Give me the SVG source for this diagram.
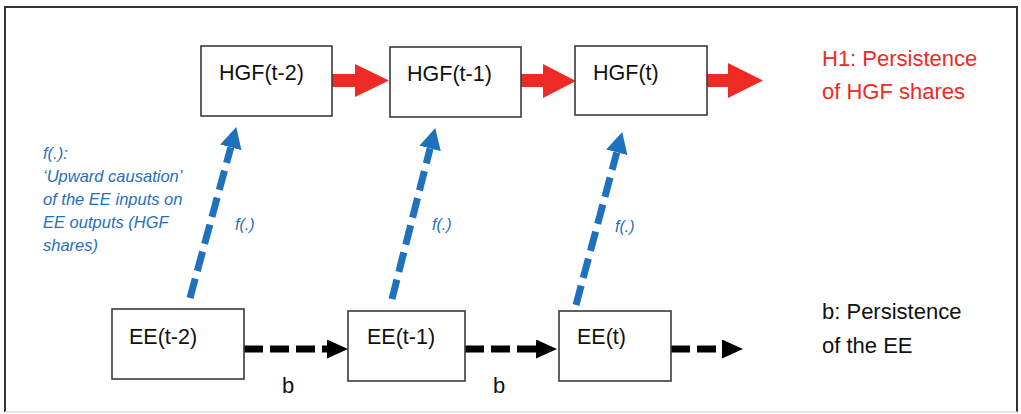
<svg xmlns="http://www.w3.org/2000/svg" width="1021" height="414" viewBox="0 0 1021 414">
  <style>
    .box { fill: #ffffff; stroke: #3a3a3a; stroke-width: 1.6; }
    .lbl { font-family: "Liberation Sans", Arial, sans-serif; font-size: 21.5px; fill: #111111; }
    .red { font-family: "Liberation Sans", Arial, sans-serif; font-size: 22px; fill: #EE2A24; }
    .note { font-family: "Liberation Sans", Arial, sans-serif; font-size: 22px; fill: #111111; }
    .blue { font-family: "Liberation Sans", Arial, sans-serif; font-style: italic; font-size: 16.5px; fill: #1F70BD; }
    .fl { font-family: "Liberation Sans", Arial, sans-serif; font-style: italic; font-size: 16px; fill: #1F70BD; }
    .up { fill: none; stroke: #1F70BD; stroke-width: 7; stroke-dasharray: 20 8; marker-end: url(#blueHead); }
    .pers { fill: none; stroke: #000000; stroke-width: 7; stroke-dasharray: 19 7; marker-end: url(#blackHead); }
    .redarrow { fill: #EE2A24; }
  </style>
  <defs>
    <marker id="blueHead" markerUnits="userSpaceOnUse" markerWidth="22" markerHeight="22" refX="0" refY="11" orient="auto">
      <path d="M0,0 L21,11 L0,22 z" fill="#1F70BD"/>
    </marker>
    <marker id="blackHead" markerUnits="userSpaceOnUse" markerWidth="22" markerHeight="20" refX="0" refY="9.5" orient="auto">
      <path d="M0,0 L21,9.5 L0,19 z" fill="#000000"/>
    </marker>
  </defs>

  <rect x="0" y="0" width="1021" height="414" fill="#ffffff"/>
  <g id="frame">
    <path d="M5,412 L5,7 L1017,7 L1017,412" fill="none" stroke="#333333" stroke-width="2"/>
    <line x1="5" y1="412" x2="1017" y2="412" stroke="#dddddd" stroke-width="1.5"/>
  </g>

  <g id="connectors">
    <polygon class="redarrow" points="332,74 355,74 355,64 389,80.5 355,97 355,87 332,87"/>
    <polygon class="redarrow" points="521,74 543,74 543,64 576,81 543,98 543,87 521,87"/>
    <polygon class="redarrow" points="707,74 728,74 728,63 763,80.5 728,98 728,87 707,87"/>
    <path class="up" d="M190,298 L230.8,147.3"/>
    <path class="up" d="M392,299 L430.1,148.4"/>
    <path class="up" d="M576,305 L616.8,152.3"/>
    <path class="pers" d="M244,349 L327,349"/>
    <path class="pers" d="M465,349 L536,349"/>
    <path class="pers" d="M671,349 L722,349"/>
  </g>

  <g id="hgf-t2">
    <rect class="box" x="201" y="46" width="131" height="70"/>
    <text class="lbl" x="219" y="80">HGF(t-2)</text>
  </g>
  <g id="hgf-t1">
    <rect class="box" x="390" y="47" width="131" height="70"/>
    <text class="lbl" x="407" y="81">HGF(t-1)</text>
  </g>
  <g id="hgf-t">
    <rect class="box" x="575" y="46" width="132" height="69"/>
    <text class="lbl" x="593" y="80">HGF(t)</text>
  </g>
  <g id="ee-t2">
    <rect class="box" x="112" y="309" width="132" height="70"/>
    <text class="lbl" x="129" y="344">EE(t-2)</text>
  </g>
  <g id="ee-t1">
    <rect class="box" x="348" y="311" width="117" height="70"/>
    <text class="lbl" x="367" y="344">EE(t-1)</text>
  </g>
  <g id="ee-t">
    <rect class="box" x="559" y="311" width="112" height="70"/>
    <text class="lbl" x="577" y="344">EE(t)</text>
  </g>

  <g id="labels">
    <text class="red" x="822" y="66">H1: Persistence</text>
    <text class="red" x="822" y="99">of HGF shares</text>
    <text class="note" x="822" y="319">b: Persistence</text>
    <text class="note" x="822" y="353">of the EE</text>
    <text class="note" x="282" y="393">b</text>
    <text class="note" x="493" y="393">b</text>
    <text class="blue" x="43" y="159">f(.):</text>
    <text class="blue" x="43" y="182">‘Upward causation’</text>
    <text class="blue" x="43" y="205">of the EE inputs on</text>
    <text class="blue" x="43" y="228">EE outputs (HGF</text>
    <text class="blue" x="43" y="251">shares)</text>
    <text class="fl" x="235" y="230">f(.)</text>
    <text class="fl" x="432" y="230">f(.)</text>
    <text class="fl" x="615" y="232">f(.)</text>
  </g>
</svg>
